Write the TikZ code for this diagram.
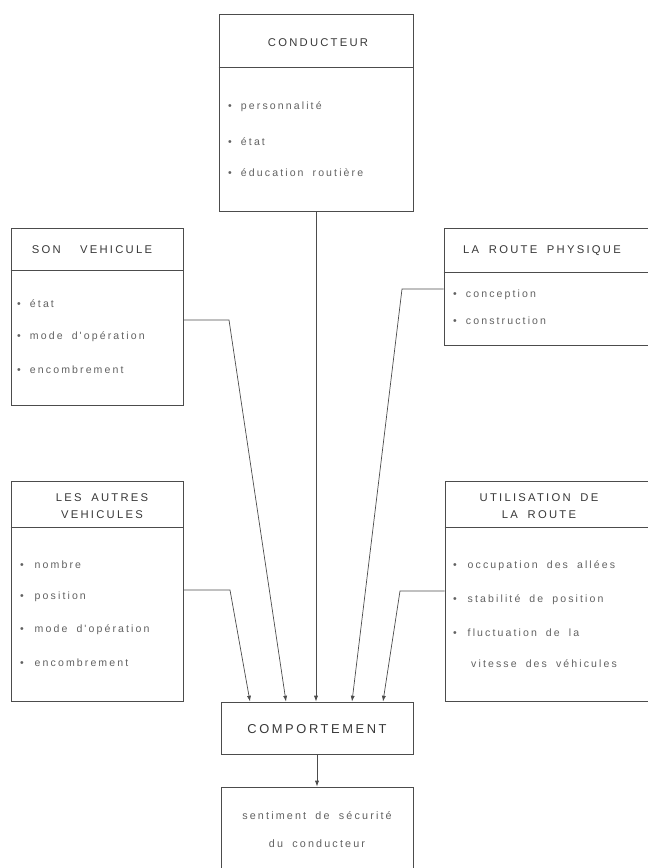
\documentclass[tikz,border=0pt]{standalone}
\usepackage{fontspec}
\setmainfont{Liberation Sans}
\newfontfamily\lettrage[LetterSpace=20,WordSpace=1.8]{Liberation Sans}
\usetikzlibrary{arrows.meta}
\newlength\px
\setlength\px{0.03cm}
\definecolor{trait}{gray}{0.3}
\definecolor{encre}{gray}{0.38}
\begin{document}
\begin{tikzpicture}[x=0.03cm,y=-0.03cm]
    \useasboundingbox (0,0) rectangle (648,868);
    \clip (0,0) rectangle (648,868);
    \tikzstyle{boite}=[draw=trait,line width=0.7pt,inner sep=0pt]
    \tikzstyle{titre}=[font=\lettrage\fontsize{9.6}{14}\selectfont,text=black!78,align=center]
    \tikzstyle{item}=[font=\lettrage\fontsize{9}{11}\selectfont,text=encre,anchor=west,inner sep=0pt]
    \tikzstyle{fleche}=[draw=trait,line width=0.6pt,-{Latex[length=5pt,width=3.5pt]}]
    %%%%%%%%%%%%%%%%%%%%%%%%%%%%%%%%%%%%%% Conducteur
    \node[boite,minimum width=194\px,minimum height=197\px] (cond) at (316,112.5){};
    \draw[trait,line width=0.6pt] (cond.west |- 0,67) -- (cond.east |- 0,67);
    \node[titre] (condT) at (318,43){CONDUCTEUR};
    \node[item] (cond1) at (228,107){\textbullet\ personnalité};
    \node[item] (cond2) at (228,142){\textbullet\ état};
    \node[item] (cond3) at (228,173){\textbullet\ éducation routière};

    %%%%%%%%%%%%%%%%%%%%%%%%%%%%%%%%%%%%%% Son vehicule
    \node[boite,minimum width=172\px,minimum height=177\px] (sveh) at (97,316.5){};
    \draw[trait,line width=0.6pt] (sveh.west |- 0,270) -- (sveh.east |- 0,270);
    \node[titre] (svehT) at (92,250){SON \ VEHICULE};
    \node[item] (sveh1) at (17,304){\textbullet\ état};
    \node[item] (sveh2) at (17,337){\textbullet\ mode d'opération};
    \node[item] (sveh3) at (17,370){\textbullet\ encombrement};

    %%%%%%%%%%%%%%%%%%%%%%%%%%%%%%%%%%%%%% La route physique
    \node[boite,minimum width=216\px,minimum height=117\px] (route) at (552,286.5){};
    \draw[trait,line width=0.6pt] (route.west |- 0,272) -- (route.east |- 0,272);
    \node[titre] (routeT) at (542,251){LA ROUTE PHYSIQUE};
    \node[item] (route1) at (453,295){\textbullet\ conception};
    \node[item] (route2) at (453,321){\textbullet\ construction};

    %%%%%%%%%%%%%%%%%%%%%%%%%%%%%%%%%%%%%% Les autres vehicules
    \node[boite,minimum width=172\px,minimum height=220\px] (autres) at (97,591){};
    \draw[trait,line width=0.6pt] (autres.west |- 0,527) -- (autres.east |- 0,527);
    \node[titre] (autresT) at (102,506){LES AUTRES\\VEHICULES};
    \node[item] (autres1) at (20,565){\textbullet\ \,nombre};
    \node[item] (autres2) at (20,597){\textbullet\ \,position};
    \node[item] (autres3) at (20,630){\textbullet\ \,mode d'opération};
    \node[item] (autres4) at (20,663){\textbullet\ \,encombrement};

    %%%%%%%%%%%%%%%%%%%%%%%%%%%%%%%%%%%%%% Utilisation de la route
    \node[boite,minimum width=215\px,minimum height=220\px] (util) at (552.5,591){};
    \draw[trait,line width=0.6pt] (util.west |- 0,527) -- (util.east |- 0,527);
    \node[titre] (utilT) at (539,506){UTILISATION DE\\LA ROUTE};
    \node[item] (util1) at (453,566){\textbullet\ \,occupation des allées};
    \node[item] (util2) at (453,600){\textbullet\ \,stabilité de position};
    \node[item] (util3) at (453,633){\textbullet\ \,fluctuation de la};
    \node[item] (util4) at (471,664){vitesse des véhicules};

    %%%%%%%%%%%%%%%%%%%%%%%%%%%%%%%%%%%%%% Comportement
    \node[boite,minimum width=192\px,minimum height=52\px] (comp) at (317,728){};
    \node[titre,font=\lettrage\fontsize{11}{14}\selectfont] (compT) at (317,729){COMPORTEMENT};
    \node[boite,minimum width=192\px,minimum height=93\px] (sent) at (317,833.5){};
    \node[titre,font=\lettrage\fontsize{9.2}{24}\selectfont,text=encre] (sentT) at (317,830){sentiment de sécurité\\du conducteur};

    %%%%%%%%%%%%%%%%%%%%%%%%%%%%%%%%%%%%%% Fleches
    \coordinate (sv1) at (229,320);
    \coordinate (au1) at (230,590);
    \coordinate (ro1) at (402,289);
    \coordinate (ut1) at (400,591);
    \coordinate (c1) at (comp.north -| 250,0);
    \coordinate (c2) at (comp.north -| 286,0);
    \coordinate (c4) at (comp.north -| 352,0);
    \coordinate (c5) at (comp.north -| 383,0);

    \draw[fleche] (cond.south) -- (cond.south |- comp.north);
    \draw[fleche] (sveh.east |- sv1) -- (sv1) -- (c2);
    \draw[fleche] (autres.east |- au1) -- (au1) -- (c1);
    \draw[fleche] (route.west |- ro1) -- (ro1) -- (c4);
    \draw[fleche] (util.west |- ut1) -- (ut1) -- (c5);
    \draw[fleche] (comp.south) -- (sent.north);
\end{tikzpicture}
\end{document}
